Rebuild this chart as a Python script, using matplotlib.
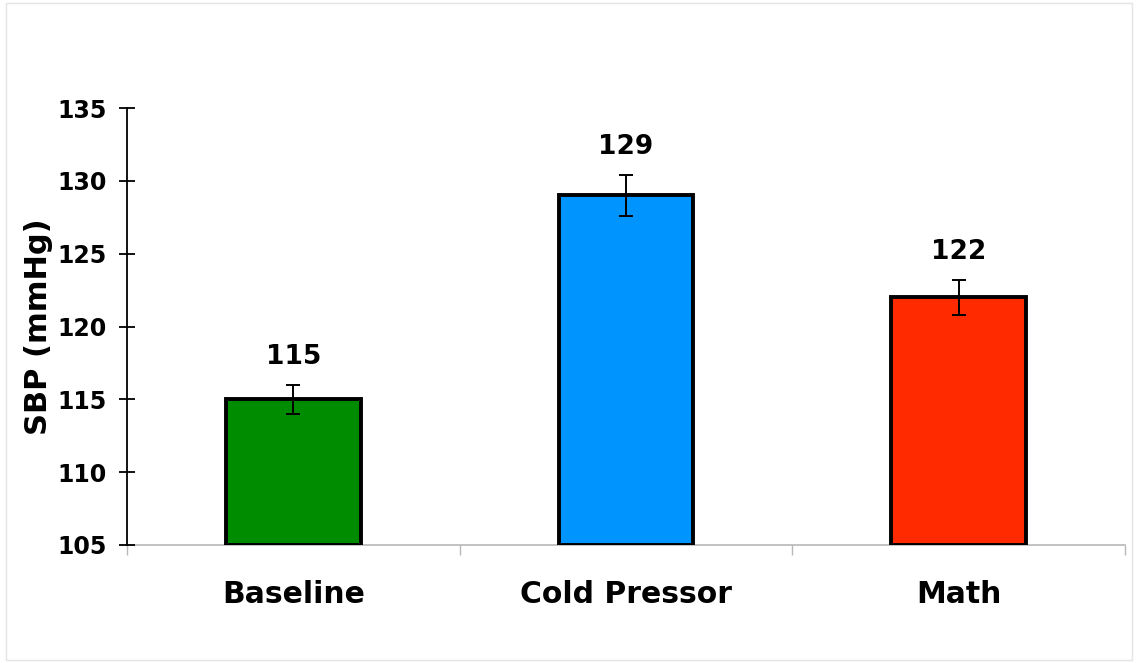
"""SBP by condition bar chart."""
import matplotlib.pyplot as plt
from matplotlib.patches import Rectangle
import numpy as np

categories = ["Baseline", "Cold Pressor", "Math"]
sbp = [115, 129, 122]
sbp_err = [1.0, 1.4, 1.2]
bar_colors = ["#008c00", "#0094ff", "#ff2a00"]
y_ticks = [105, 110, 115, 120, 125, 130, 135]

plt.rcParams["font.family"] = ["DejaVu Sans"]
plt.rcParams["font.weight"] = "bold"

fig = plt.figure(figsize=(11.38, 6.63), dpi=100)
fig.patches.append(Rectangle((0.005, 0.004), 0.99, 0.991, transform=fig.transFigure,
                             fill=False, edgecolor="#e4e4e4", linewidth=1))
ax = fig.add_axes([0.1116, 0.178, 0.877, 0.659])

x = np.arange(len(categories))
ax.bar(x, np.array(sbp) - 105, bottom=105, width=0.405, color=bar_colors,
       edgecolor="black", linewidth=2.8, zorder=2)
ax.errorbar(x, sbp, yerr=sbp_err, fmt="none", ecolor="black", elinewidth=1.4,
            capsize=5, capthick=1.4, zorder=3)
for xi, v, e in zip(x, sbp, sbp_err):
    ax.annotate(str(v), (xi, v + e), xytext=(0, 11), textcoords="offset points",
                ha="center", va="bottom", fontsize=19, fontweight="bold")

ax.set_xlim(-0.5, 2.5)
ax.set_ylim(105, 135)
ax.set_yticks(y_ticks)
ax.set_xticks(x)
ax.set_xticklabels(categories, fontsize=21.5, fontweight="bold")
ax.set_xticks([-0.5, 0.5, 1.5, 2.5], minor=True)
ax.tick_params(axis="x", which="major", length=0, pad=25)
ax.tick_params(axis="x", which="minor", direction="out", length=7, color="#b8b8b8", width=1)
ax.tick_params(axis="y", direction="inout", length=11, width=1.3, labelsize=17, pad=9)
for lbl in ax.get_yticklabels():
    lbl.set_fontweight("bold")
ax.set_ylabel("SBP (mmHg)", fontsize=22, fontweight="bold", labelpad=3)

for side in ["top", "right"]:
    ax.spines[side].set_visible(False)
ax.spines["left"].set_linewidth(1.3)
ax.spines["bottom"].set_color("#b8b8b8")
ax.spines["bottom"].set_linewidth(1.2)
ax.spines["bottom"].set_zorder(1)

fig.savefig("out.png", dpi=100)
